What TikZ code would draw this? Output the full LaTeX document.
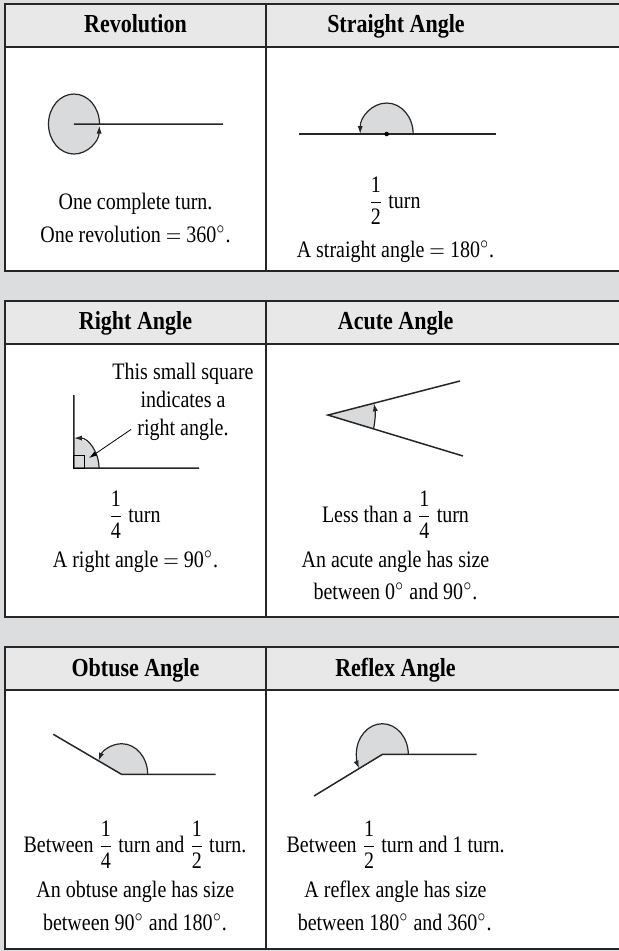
\documentclass[tikz,border=0pt]{standalone}
\usepackage{amsmath}
\usepackage{fontspec}
\setmainfont{Liberation Serif}
\usetikzlibrary{arrows.meta}
\definecolor{bandgray}{HTML}{DCDDDF}
\definecolor{headgray}{HTML}{E8E8E9}
\definecolor{wedgegray}{HTML}{D9DADC}
\newcommand{\turnfrac}[2]{$\dfrac{\text{#1}}{\text{#2}}$}
\tikzset{
  tbl/.style={line width=1pt, draw=black!85},
  hdr/.style={font=\fontsize{11}{13}\selectfont\bfseries, anchor=base},
  txt/.style={font=\fontsize{10}{12}\selectfont, anchor=base, inner sep=3pt},
  ray/.style={line width=0.75pt, draw=black!85},
  turnarc/.style={line width=0.6pt, draw=black!85, -{Latex[length=4pt, width=2.6pt]}},
  wedge/.style={fill=wedgegray},
}
\begin{document}
\begin{tikzpicture}[x=0.5pt, y=0.42373pt, yscale=1.18, transform shape]
\useasboundingbox (0,0) rectangle (619,-951);
\clip (0,0) rectangle (619,-951);
\fill[bandgray] (0,0) rectangle (619,-951);
% three tables: top, header line, bottom
\foreach \ya/\yb/\yc in {4/47/271, 301/344/617, 647/690/949} {
  \fill[white] (5,-\yb) rectangle (630,-\yc);
  \fill[headgray] (5,-\ya) rectangle (630,-\yb);
  \draw[tbl] (5,-\ya) rectangle (630,-\yc);
  \draw[tbl] (5,-\yb) -- (630,-\yb);
  \draw[tbl] (266,-\ya) -- (266,-\yc);
}

\node[hdr] (hRev) at (135.5,-32) {Revolution};
\node[hdr] (hStr) at (396,-32) {Straight Angle};
\node[hdr] (hRgt) at (135.5,-329) {Right Angle};
\node[hdr] (hAcu) at (395.7,-329) {Acute Angle};
\node[hdr] (hObt) at (135.5,-676) {Obtuse Angle};
\node[hdr] (hRef) at (395.5,-676) {Reflex Angle};

% revolution
\coordinate (revO) at (74,-124);
\fill[wedge] (revO) ellipse[x radius=25.5, y radius=30];
\draw[ray] (revO) -- (223,-124);
\draw[turnarc] (revO) ++(0:25.5 and 30) arc[start angle=0, end angle=357, x radius=25.5, y radius=30];
\node[txt] (rev1) at (135.5,-209) {One complete turn.};
\node[txt] (rev2) at (135.5,-242) {One revolution $=$ 360$^\circ$.};

% straight angle
\coordinate (strO) at (386.7,-134);
\fill[wedge] (strO) ++(0:26.5 and 31) arc[start angle=0, end angle=180, x radius=26.5, y radius=31] -- cycle;
\draw[ray] (299,-134) -- (496,-134);
\draw[turnarc] (strO) ++(0:26.5 and 31) arc[start angle=0, end angle=180, x radius=26.5, y radius=31];
\fill (strO) circle[radius=2.3];
\node[txt] (str1) at (394.5,-208) {\turnfrac{1}{2} turn};
\node[txt] (str2) at (395.5,-257) {A straight angle $=$ 180$^\circ$.};

% right angle
\coordinate (rgtO) at (74,-468);
\coordinate (sqTip) at (89,-458);
\fill[wedge] (rgtO) -- ++(0:25 and 30) arc[start angle=0, end angle=90, x radius=25, y radius=30] -- cycle;
\draw[ray] (74,-395) -- (rgtO) -- (199,-468);
\draw[line width=0.5pt] (rgtO) rectangle ++(11,13);
\draw[turnarc] (rgtO) ++(0:25 and 30) arc[start angle=0, end angle=90, x radius=25, y radius=30];
\node[txt] (note1) at (183,-379) {This small square};
\node[txt] (note2) at (183,-407) {indicates a};
\node[txt] (note3) at (183,-435) {right angle.};
\draw[line width=0.4pt, -{Latex[length=4pt, width=2.4pt]}] (note3.west) -- (sqTip);
\node[txt] (rgt1) at (134.5,-522) {\turnfrac{1}{4} turn};
\node[txt] (rgt2) at (135.5,-567) {A right angle $=$ 90$^\circ$.};

% acute angle
\coordinate (acuO) at (328,-415);
\fill[wedge] (acuO) -- ++(-14.4:47 and 55.5) arc[start angle=-14.4, end angle=12.3, x radius=47, y radius=55.5] -- cycle;
\draw[ray] (460,-381) -- (acuO) -- (463,-456);
\draw[turnarc] (acuO) ++(-14.4:47 and 55.5) arc[start angle=-14.4, end angle=12.3, x radius=47, y radius=55.5];
\node[txt] (acu1) at (395.5,-522) {Less than a \turnfrac{1}{4} turn};
\node[txt] (acu2) at (395.5,-567) {An acute angle has size};
\node[txt] (acu3) at (395.5,-599) {between 0$^\circ$ and 90$^\circ$.};

% obtuse angle
\coordinate (obtO) at (121.7,-774.3);
\fill[wedge] (obtO) -- ++(0:26 and 30.7) arc[start angle=0, end angle=153.6, x radius=26, y radius=30.7] -- cycle;
\draw[ray] (53.3,-734.3) -- (obtO) -- (215.7,-774.3);
\draw[turnarc] (obtO) ++(0:26 and 30.7) arc[start angle=0, end angle=153.6, x radius=26, y radius=30.7];
\node[txt] (obt1) at (135,-852) {Between \turnfrac{1}{4} turn and \turnfrac{1}{2} turn.};
\node[txt] (obt2) at (135.3,-897) {An obtuse angle has size};
\node[txt] (obt3) at (135,-930) {between 90$^\circ$ and 180$^\circ$.};

% reflex angle
\coordinate (refO) at (382.3,-754.3);
\fill[wedge] (refO) -- ++(0:26 and 30.7) arc[start angle=0, end angle=207.3, x radius=26, y radius=30.7] -- cycle;
\draw[ray] (314,-796) -- (refO) -- (476.7,-754.3);
\draw[turnarc] (refO) ++(0:26 and 30.7) arc[start angle=0, end angle=207.3, x radius=26, y radius=30.7];
\node[txt] (ref1) at (395.7,-852) {Between \turnfrac{1}{2} turn and 1 turn.};
\node[txt] (ref2) at (395.5,-897) {A reflex angle has size};
\node[txt] (ref3) at (394.7,-930) {between 180$^\circ$ and 360$^\circ$.};
\end{tikzpicture}
\end{document}
